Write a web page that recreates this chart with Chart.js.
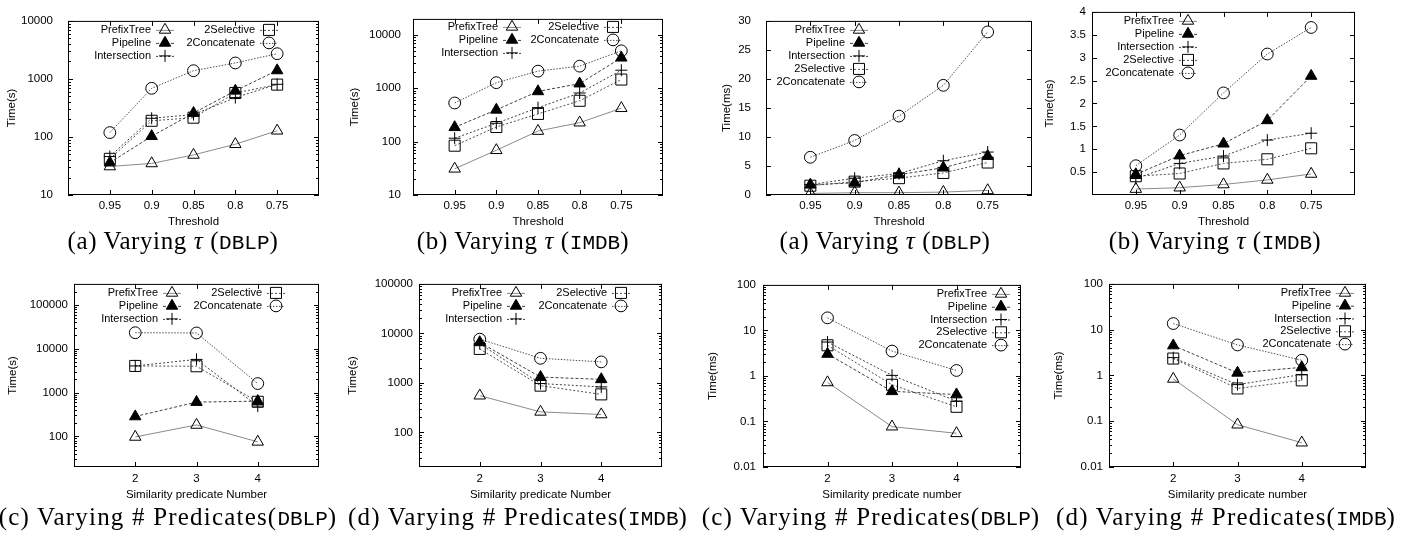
<!DOCTYPE html>
<html>
<head>
<meta charset="utf-8">
<script src="https://cdn.jsdelivr.net/npm/chart.js@4.4.0/dist/chart.umd.min.js"></script>
<style>
  body { margin:0; background:#fff; width:1407px; height:539px; position:relative; overflow:hidden; }
  canvas { position:absolute; }
  .cap { position:absolute; font-family:"Liberation Serif", serif; font-size:25px; line-height:28px;
         white-space:nowrap; transform:translateX(-50%); color:#000; letter-spacing:0.6px; }
  .cap.wide { letter-spacing:1.2px; }
  .cap tt { font-family:"Liberation Mono", monospace; font-size:21px; letter-spacing:0; }
</style>
</head>
<body>
<canvas id="p1"></canvas><canvas id="p2"></canvas><canvas id="p3"></canvas><canvas id="p4"></canvas>
<canvas id="p5"></canvas><canvas id="p6"></canvas><canvas id="p7"></canvas><canvas id="p8"></canvas>

<div class="cap" style="left:173px;top:227px">(a) Varying <i>τ</i> (<tt>DBLP</tt>)</div>
<div class="cap" style="left:523px;top:227px">(b) Varying <i>τ</i> (<tt>IMDB</tt>)</div>
<div class="cap" style="left:885px;top:227px">(a) Varying <i>τ</i> (<tt>DBLP</tt>)</div>
<div class="cap" style="left:1215px;top:227px">(b) Varying <i>τ</i> (<tt>IMDB</tt>)</div>
<div class="cap wide" style="left:168px;top:503px">(c) Varying # Predicates(<tt>DBLP</tt>)</div>
<div class="cap wide" style="left:518px;top:503px">(d) Varying # Predicates(<tt>IMDB</tt>)</div>
<div class="cap wide" style="left:871px;top:503px">(c) Varying # Predicates(<tt>DBLP</tt>)</div>
<div class="cap wide" style="left:1226px;top:503px">(d) Varying # Predicates(<tt>IMDB</tt>)</div>

<script>
// series order: PrefixTree, Pipeline, Intersection, 2Selective, 2Concatenate
const methods = ['PrefixTree', 'Pipeline', 'Intersection', '2Selective', '2Concatenate'];
const thresholds = [0.95, 0.9, 0.85, 0.8, 0.75];
const predicates = [2, 3, 4];

// join time, seconds, vs threshold
const dblpTauSec = [
  [31, 35, 49, 75, 128],
  [36, 103, 258, 624, 1400],
  [46, 210, 243, 477, 808],
  [42, 190, 215, 573, 798],
  [119, 689, 1386, 1884, 2722]
];
const imdbTauSec = [
  [31, 69, 158, 227, 423],
  [186, 395, 875, 1224, 3742],
  [116, 221, 434, 817, 2183],
  [84, 188, 331, 584, 1459],
  [531, 1274, 2099, 2603, 5035]
];
// search time, ms, vs threshold
const dblpTauMs = [
  [0.27, 0.4, 0.4, 0.5, 0.8],
  [1.76, 2.1, 3.5, 4.7, 6.7],
  [1.8, 2.9, 3.7, 5.9, 7.4],
  [1.6, 2.3, 2.9, 3.8, 5.6],
  [6.5, 9.4, 13.6, 18.9, 28.1]
];
const imdbTauMs = [
  [0.13, 0.16, 0.23, 0.33, 0.46],
  [0.45, 0.86, 1.12, 1.63, 2.6],
  [0.36, 0.69, 0.85, 1.2, 1.35],
  [0.41, 0.47, 0.69, 0.78, 1.02],
  [0.64, 1.31, 2.23, 3.08, 3.66]
];
// vs number of predicates
const dblpPredSec = [
  [97, 182, 75],
  [284, 604, 635],
  [4040, 5690, 490],
  [4040, 3970, 614],
  [23100, 22800, 1600]
];
const imdbPredSec = [
  [552, 260, 230],
  [6590, 1310, 1180],
  [6200, 970, 830],
  [4860, 880, 586],
  [7650, 3140, 2660]
];
const dblpPredMs = [
  [0.72, 0.077, 0.055],
  [3.04, 0.46, 0.39],
  [5.56, 1.03, 0.28],
  [4.72, 0.64, 0.21],
  [18.9, 3.52, 1.32]
];
const imdbPredMs = [
  [0.84, 0.084, 0.034],
  [4.5, 1.14, 1.5],
  [2.45, 0.63, 1.05],
  [2.34, 0.52, 0.78],
  [13.6, 4.64, 2.15]
];

// tick labels
const ticksA = [10, 100, 1000, 10000];
const ticksB = [0, 5, 10, 15, 20, 25, 30];
const ticksC = [0.5, 1, 1.5, 2, 2.5, 3, 3.5, 4];
const ticksD = [100, 1000, 10000, 100000];
const ticksE = [0.01, 0.1, 1, 10, 100];

const FONT = { family: 'Liberation Sans', size: 11.5 };

const markers = [
  { style: 'triangle', r: 6.6, fill: false, line: '#8a8a8a', dash: [] },
  { style: 'triangle', r: 6.6, fill: true, line: '#404040', dash: [3, 2] },
  { style: 'cross', r: 6, fill: false, line: '#404040', dash: [2, 2] },
  { style: 'rect', r: 7.8, fill: false, line: '#505050', dash: [2, 2] },
  { style: 'circle', r: 5.9, fill: false, line: '#505050', dash: [1.5, 1.5] }
];

function drawMarker(ctx, m, x, y) {
  ctx.beginPath();
  if (m.style === 'triangle') {
    for (let k = 0; k < 3; k++) {
      const a = k * 2 * Math.PI / 3;
      const px = x + Math.sin(a) * m.r, py = y - Math.cos(a) * m.r;
      if (k) ctx.lineTo(px, py); else ctx.moveTo(px, py);
    }
    ctx.closePath();
  } else if (m.style === 'rect') {
    const s = m.r * Math.SQRT1_2;
    ctx.rect(x - s, y - s, 2 * s, 2 * s);
  } else if (m.style === 'cross') {
    ctx.moveTo(x, y - m.r); ctx.lineTo(x, y + m.r);
    ctx.moveTo(x - m.r, y); ctx.lineTo(x + m.r, y);
  } else {
    ctx.arc(x, y, m.r, 0, 2 * Math.PI);
  }
  if (m.fill) { ctx.fillStyle = '#000'; ctx.fill(); }
  ctx.stroke();
}

// gnuplot-ish box, inward ticks and key
const gnuFrame = {
  id: 'gnuFrame',
  afterDraw(chart, args, o) {
    const { ctx, chartArea: a } = chart;
    const xs = chart.scales.x, ys = chart.scales.y;
    ctx.save();
    ctx.strokeStyle = '#000';
    ctx.lineWidth = 1;
    ctx.setLineDash([]);
    ctx.strokeRect(a.left + 0.5, a.top + 0.5, a.right - a.left - 1, a.bottom - a.top - 1);
    ctx.beginPath();
    o.xTicks.forEach(v => {
      const px = Math.round(xs.getPixelForValue(v)) + 0.5;
      ctx.moveTo(px, a.bottom); ctx.lineTo(px, a.bottom - 5);
      ctx.moveTo(px, a.top); ctx.lineTo(px, a.top + 5);
    });
    o.yTicks.forEach(v => {
      const py = Math.round(ys.getPixelForValue(v)) + 0.5;
      ctx.moveTo(a.left, py); ctx.lineTo(a.left + 5, py);
      ctx.moveTo(a.right, py); ctx.lineTo(a.right - 5, py);
    });
    if (o.log) {
      const lo = Math.floor(Math.log10(ys.min)), hi = Math.ceil(Math.log10(ys.max));
      for (let d = lo; d < hi; d++) {
        for (let k = 2; k < 10; k++) {
          const v = k * Math.pow(10, d);
          if (v <= ys.min || v >= ys.max) continue;
          const py = Math.round(ys.getPixelForValue(v)) + 0.5;
          ctx.moveTo(a.left, py); ctx.lineTo(a.left + 3, py);
          ctx.moveTo(a.right, py); ctx.lineTo(a.right - 3, py);
        }
      }
    }
    ctx.stroke();

    // key
    ctx.font = '11px "Liberation Sans"';
    ctx.textAlign = 'right';
    ctx.textBaseline = 'middle';
    o.key.cols.forEach((col, ci) => {
      const mx = a.left + o.key.colX[ci];
      col.forEach((i, j) => {
        const y = a.top + o.key.y0 + j * o.key.dy;
        const m = markers[i];
        ctx.fillStyle = '#000';
        ctx.fillText(methods[i], mx - 14, y);
        ctx.strokeStyle = m.line;
        ctx.setLineDash(m.dash);
        ctx.beginPath();
        ctx.moveTo(mx - 9, y + 0.5); ctx.lineTo(mx + 9, y + 0.5);
        ctx.stroke();
        ctx.setLineDash([]);
        ctx.strokeStyle = '#000';
        drawMarker(ctx, m, mx, y);
      });
    });
    ctx.restore();
  }
};

const plots = [
  { id: 'p1', box: [68, 7, 319, 195], titleX: 12, xs: thresholds, data: dblpTauSec, yType: 'logarithmic',
    yMin: 10, yMax: 10000, yTicks: ticksA, yTitle: 'Time(s)', yPad: 15, xTitle: 'Threshold', axisH: 34, xPad: 4,
    key: { cols: [[0, 1, 2], [3, 4]], colX: [97, 201], y0: 9, dy: 13 } },
  { id: 'p2', box: [413, 8, 663, 195], titleX: 355, xs: thresholds, data: imdbTauSec, yType: 'logarithmic',
    yMin: 10, yMax: 20000, yTicks: ticksA, yTitle: 'Time(s)', yPad: 12, xTitle: 'Threshold', axisH: 34, xPad: 4,
    key: { cols: [[0, 1, 2], [3, 4]], colX: [99, 200], y0: 8, dy: 13 } },
  { id: 'p3', box: [766, 7, 1032, 195], titleX: 727, xs: thresholds, data: dblpTauMs, yType: 'linear',
    yMin: 0, yMax: 30, yTicks: ticksB, yTitle: 'Time(ms)', yPad: 15, xTitle: 'Threshold', axisH: 34, xPad: 4,
    key: { cols: [[0, 1, 2, 3, 4]], colX: [93], y0: 9, dy: 13 } },
  { id: 'p4', box: [1092, 7, 1355, 195], titleX: 1050, xs: thresholds, data: imdbTauMs, yType: 'linear',
    yMin: 0, yMax: 4, yTicks: ticksC, yTitle: 'Time(ms)', yPad: 6, xTitle: 'Threshold', axisH: 34, xPad: 4,
    key: { cols: [[0, 1, 2, 3, 4]], colX: [96], y0: 9, dy: 13 } },
  { id: 'p5', box: [74, 279, 319, 467], titleX: 13, xs: predicates, data: dblpPredSec, yType: 'logarithmic',
    yMin: 20, yMax: 300000, yTicks: ticksD, yTitle: 'Time(s)', yPad: 6, xTitle: 'Similarity predicate Number', axisH: 35, xPad: 5,
    key: { cols: [[0, 1, 2], [3, 4]], colX: [98, 202], y0: 9, dy: 13 } },
  { id: 'p6', box: [419, 279, 662, 467], titleX: 353, xs: predicates, data: imdbPredSec, yType: 'logarithmic',
    yMin: 20, yMax: 100000, yTicks: ticksD, yTitle: 'Time(s)', yPad: 6, xTitle: 'Similarity predicate Number', axisH: 35, xPad: 5,
    key: { cols: [[0, 1, 2], [3, 4]], colX: [97, 202], y0: 9, dy: 13 } },
  { id: 'p7', box: [763, 279, 1021, 467], titleX: 713, xs: predicates, data: dblpPredMs, yType: 'logarithmic',
    yMin: 0.01, yMax: 100, yTicks: ticksE, yTitle: 'Time(ms)', yPad: 7, xTitle: 'Similarity predicate number', axisH: 35, xPad: 5,
    key: { cols: [[0, 1, 2, 3, 4]], colX: [238], y0: 9, dy: 12.8 } },
  { id: 'p8', box: [1109, 279, 1366, 467], titleX: 1059, xs: predicates, data: imdbPredMs, yType: 'logarithmic',
    yMin: 0.01, yMax: 100, yTicks: ticksE, yTitle: 'Time(ms)', yPad: 6, xTitle: 'Similarity predicate number', axisH: 35, xPad: 5,
    key: { cols: [[0, 1, 2, 3, 4]], colX: [236], y0: 9, dy: 12.8 } }
];

plots.forEach(p => {
  const [bl, bt, br, bb] = p.box;
  const left = p.titleX - 7, top = bt - 8;
  const w = br + 6 - left, h = bb + p.axisH + 2 - top;
  const cv = document.getElementById(p.id);
  cv.width = w; cv.height = h;
  cv.style.left = left + 'px'; cv.style.top = top + 'px';
  cv.style.width = w + 'px'; cv.style.height = h + 'px';

  const tau = p.xs === thresholds;
  const datasets = p.data.map((vals, i) => ({
    label: methods[i],
    data: vals.map((v, k) => ({ x: p.xs[k], y: v })),
    borderColor: markers[i].line,
    borderWidth: 1,
    borderDash: markers[i].dash,
    pointStyle: markers[i].style,
    pointRadius: markers[i].r,
    pointBorderColor: '#000',
    pointBorderWidth: 1,
    pointBackgroundColor: markers[i].fill ? '#000' : 'rgba(0,0,0,0)',
    fill: false,
    tension: 0
  }));

  new Chart(cv, {
    type: 'line',
    data: { datasets },
    plugins: [gnuFrame],
    options: {
      responsive: false,
      animation: false,
      devicePixelRatio: 1,
      layout: { autoPadding: false, padding: { left: 0, top: 8, right: 6, bottom: 2 } },
      plugins: {
        legend: { display: false },
        tooltip: { enabled: false },
        gnuFrame: { xTicks: p.xs, yTicks: p.yTicks, log: p.yType === 'logarithmic', key: p.key }
      },
      scales: {
        x: {
          type: 'linear',
          min: tau ? 0.7 : 1,
          max: tau ? 1.0 : 5,
          reverse: tau,
          afterBuildTicks: s => { s.ticks = p.xs.map(v => ({ value: v })); },
          afterFit: s => { s.height = p.axisH; },
          grid: { display: false, drawTicks: false },
          border: { display: false },
          ticks: { padding: p.xPad, font: FONT, color: '#000', autoSkip: false, maxRotation: 0, callback: v => String(v) },
          title: { display: true, text: p.xTitle, font: FONT, color: '#000', padding: 0 }
        },
        y: {
          type: p.yType,
          min: p.yMin,
          max: p.yMax,
          afterBuildTicks: s => { s.ticks = p.yTicks.map(v => ({ value: v })); },
          afterFit: s => { s.width = bl - left; },
          grid: { display: false, drawTicks: false },
          border: { display: false },
          ticks: { padding: p.yPad, font: FONT, color: '#000', autoSkip: false, callback: v => String(v) },
          title: { display: true, text: p.yTitle, font: FONT, color: '#000', padding: 0 }
        }
      }
    }
  });
});
</script>
</body>
</html>
